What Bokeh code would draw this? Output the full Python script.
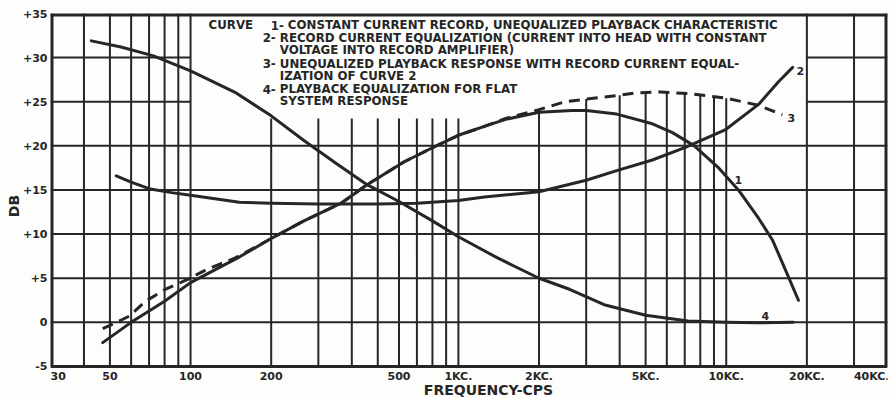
import numpy as np
from bokeh.plotting import figure
from bokeh.models import FixedTicker, Label
from bokeh.embed import file_html
from bokeh.resources import INLINE

# ---------------- data ----------------
# Curve 1: constant current record, unequalized playback characteristic
curve1_freq = [47, 60, 80, 100, 150, 200, 265, 365, 456, 628, 814, 1000, 1250, 1500,
               2000, 2660, 3000, 3900, 5300, 6300, 7600, 9300, 11100, 13200, 14900, 17100, 18600]
curve1_db = [-2.3, 0.0, 2.4, 4.5, 7.3, 9.5, 11.5, 13.5, 15.6, 18.2, 19.9, 21.2, 22.2, 23.0,
             23.8, 24.0, 24.0, 23.6, 22.5, 21.5, 20.0, 17.6, 15.0, 11.8, 9.3, 5.1, 2.5]

# Curve 2: record current equalization
curve2_freq = [52.8, 60, 70.8, 85, 100, 152, 200, 300, 500, 700, 1000, 1250, 2000, 3000,
               3900, 5300, 7000, 9900, 13200, 15700, 17700]
curve2_db = [16.6, 15.9, 15.1, 14.7, 14.4, 13.6, 13.5, 13.4, 13.4, 13.5, 13.8, 14.2, 14.8, 16.1,
             17.2, 18.4, 19.8, 21.8, 24.7, 27.3, 28.9]

# Curve 3: unequalized playback response with record current equalization (dashed)
curve3_freq = [47, 50, 59, 68, 80, 98, 115, 147, 200, 265, 365, 456, 628, 814, 1000, 1250,
               1500, 2000, 2500, 3000, 3900, 4600, 5700, 7400, 10000, 13200, 16200]
curve3_db = [-0.7, -0.35, 0.7, 2.4, 3.7, 4.9, 6.0, 7.3, 9.5, 11.5, 13.5, 15.6, 18.2, 19.9, 21.2,
             22.2, 23.1, 24.1, 25.0, 25.3, 25.7, 26.0, 26.1, 25.9, 25.4, 24.6, 23.5]

# Curve 4: playback equalization for flat system response
curve4_freq = [42.6, 55, 72.7, 100, 148, 200, 265, 350, 456, 600, 800, 1000, 1400, 2000,
               2600, 3500, 5000, 7200, 10000, 13000, 17800]
curve4_db = [31.9, 31.2, 30.2, 28.5, 26.0, 23.4, 20.6, 18.0, 15.6, 13.7, 11.5, 9.7, 7.3, 5.0,
             3.75, 2.0, 0.8, 0.15, 0.0, -0.05, 0.0]

# axis ticks (the "500" label sits under the 600 grid line in the original)
x_tick_values = [30, 50, 100, 200, 600, 1000, 2000, 5000, 10000, 20000, 40000]
x_tick_labels = ["30", "50", "100", "200", "500", "1KC.", "2KC.", "5KC.", "10KC.", "20KC.", "40KC."]
y_tick_values = [-5, 0, 5, 10, 15, 20, 25, 30, 35]
y_tick_labels = ["-5", "0", "+5", "+10", "+15", "+20", "+25", "+30", "+35"]

# grid of the chart paper
grid_freq_full = [40, 50, 60, 70, 80, 90, 100, 20000, 30000]
grid_freq_short = [200, 300, 400, 500, 600, 700, 800, 900, 1000,
                   2000, 3000, 4000, 5000, 6000, 7000, 8000, 9000, 10000]
grid_db_full = [0, 5, 10, 15, 20]
grid_db_part = [25, 30]

legend_numbers = ["1-", "2-", "", "3-", "", "4-", ""]
legend_texts = [
    "CONSTANT CURRENT RECORD, UNEQUALIZED PLAYBACK CHARACTERISTIC",
    "RECORD CURRENT EQUALIZATION (CURRENT INTO HEAD WITH CONSTANT",
    "VOLTAGE INTO RECORD AMPLIFIER)",
    "UNEQUALIZED PLAYBACK RESPONSE WITH RECORD CURRENT EQUAL-",
    "IZATION OF CURVE 2",
    "PLAYBACK EQUALIZATION FOR FLAT",
    "SYSTEM RESPONSE",
]
curve_tags = ["1", "2", "3", "4"]
x_title = "FREQUENCY-CPS"
y_title = "DB"

# ---------------- styling ----------------
INK = "#262626"
BG = "#fdfdfb"
FONT = "DejaVu Sans"
NB = "\u00a0"

X_MIN, X_MAX = 30, 40000
Y_MIN, Y_MAX = -5, 35
Y_VIEW_MIN = -8.63      # room below the chart paper for the frequency scale
SHORT_TOP_MIN = 23.1    # short grid lines start just below the legend block

p = figure(width=889, height=398, x_axis_type="log",
           x_range=(X_MIN, X_MAX), y_range=(Y_VIEW_MIN, Y_MAX),
           output_backend="svg", toolbar_location=None,
           min_border_left=50, min_border_right=2, min_border_top=13, min_border_bottom=0)
p.background_fill_color = BG
p.border_fill_color = BG
p.outline_line_color = None
p.xgrid.visible = False
p.ygrid.visible = False

for ax in (p.xaxis[0], p.yaxis[0]):
    ax.axis_line_color = None
    ax.major_tick_line_color = None
    ax.minor_tick_line_color = None
    ax.major_tick_out = 0
    ax.major_tick_in = 0
    ax.minor_tick_out = 0
    ax.minor_tick_in = 0
    ax.major_label_text_font = FONT
    ax.major_label_text_font_style = "bold"
    ax.major_label_text_font_size = "11px"
    ax.major_label_text_color = INK
    ax.major_label_text_line_height = 1.0
    ax.axis_label_text_font = FONT
    ax.axis_label_text_font_style = "bold"
    ax.axis_label_text_font_size = "14px"
    ax.axis_label_text_color = INK
    ax.axis_label_text_line_height = 1.0

p.xaxis.fixed_location = Y_MIN
p.xaxis.ticker = FixedTicker(ticks=x_tick_values)
xo = {v: l for v, l in zip(x_tick_values, x_tick_labels)}
xo[x_tick_values[0]] = NB * 4 + x_tick_labels[0]   # first label sits just inside the paper
p.xaxis.major_label_overrides = xo
p.xaxis.major_label_standoff = 4
p.xaxis.axis_label = NB * 8 + x_title
p.xaxis.axis_label_standoff = -5
p.yaxis.ticker = FixedTicker(ticks=y_tick_values)
p.yaxis.major_label_overrides = {v: l for v, l in zip(y_tick_values, y_tick_labels)}
p.yaxis.major_label_standoff = 3
p.yaxis.axis_label = y_title
p.yaxis.axis_label_standoff = -2

# ---------------- grid and frame ----------------
lf3 = np.log10(curve3_freq)
x0, y0, x1, y1 = [], [], [], []
for f in grid_freq_full:
    x0.append(f); y0.append(Y_MIN); x1.append(f); y1.append(Y_MAX)
for f in grid_freq_short:
    top = max(SHORT_TOP_MIN, float(np.interp(np.log10(f), lf3, curve3_db)))
    x0.append(f); y0.append(Y_MIN); x1.append(f); y1.append(top)
for d in grid_db_full:
    x0.append(X_MIN); y0.append(d); x1.append(X_MAX); y1.append(d)
for d in grid_db_part:
    x0.append(X_MIN); y0.append(d); x1.append(100); y1.append(d)
    x0.append(20000); y0.append(d); x1.append(X_MAX); y1.append(d)
p.segment(x0, y0, x1, y1, line_color=INK, line_width=2)

# frame border of the chart paper
p.segment([X_MIN, X_MAX, X_MIN, X_MIN], [Y_MIN, Y_MIN, Y_MIN, Y_MAX],
          [X_MIN, X_MAX, X_MAX, X_MAX], [Y_MAX, Y_MAX, Y_MIN, Y_MAX],
          line_color=INK, line_width=[6, 6, 3, 6])

# ---------------- curves ----------------
p.line(curve4_freq, curve4_db, line_color=INK, line_width=3, line_join="round", line_cap="round")
p.line(curve2_freq, curve2_db, line_color=INK, line_width=3, line_join="round", line_cap="round")
p.line(curve1_freq, curve1_db, line_color=INK, line_width=3, line_join="round", line_cap="round")
p.line(curve3_freq, curve3_db, line_color=INK, line_width=3, line_dash="11 7", line_join="round")

# curve tags
tag_pos = [(11100, 16.1), (18900, 28.5), (17500, 23.2), (14000, 0.7)]
for t, (fx, dy) in zip(curve_tags, tag_pos):
    p.add_layout(Label(x=fx, y=dy, text=t, text_font=FONT, text_font_style="bold",
                       text_font_size="11px", text_color=INK,
                       text_align="center", text_baseline="middle"))

# ---------------- legend block ----------------
LFS = "11.8px"
row_db = [33.67, 32.28, 30.89, 29.33, 27.94, 26.42, 25.11]
p.add_layout(Label(x=116.8, y=row_db[0], text="CURVE", text_font=FONT, text_font_style="bold",
                   text_font_size=LFS, text_color=INK, text_baseline="middle"))
for i, (num, txt) in enumerate(zip(legend_numbers, legend_texts)):
    num_x = 223 if i == 0 else 208
    txt_x = 230.8 if i == 0 else 215.4
    if num:
        p.add_layout(Label(x=num_x, y=row_db[i], text=num, text_font=FONT, text_font_style="bold",
                           text_font_size=LFS, text_color=INK,
                           text_align="right", text_baseline="middle"))
    p.add_layout(Label(x=txt_x, y=row_db[i], text=txt, text_font=FONT, text_font_style="bold",
                       text_font_size=LFS, text_color=INK, text_baseline="middle"))

open("out.html", "w").write(file_html(p, INLINE))
